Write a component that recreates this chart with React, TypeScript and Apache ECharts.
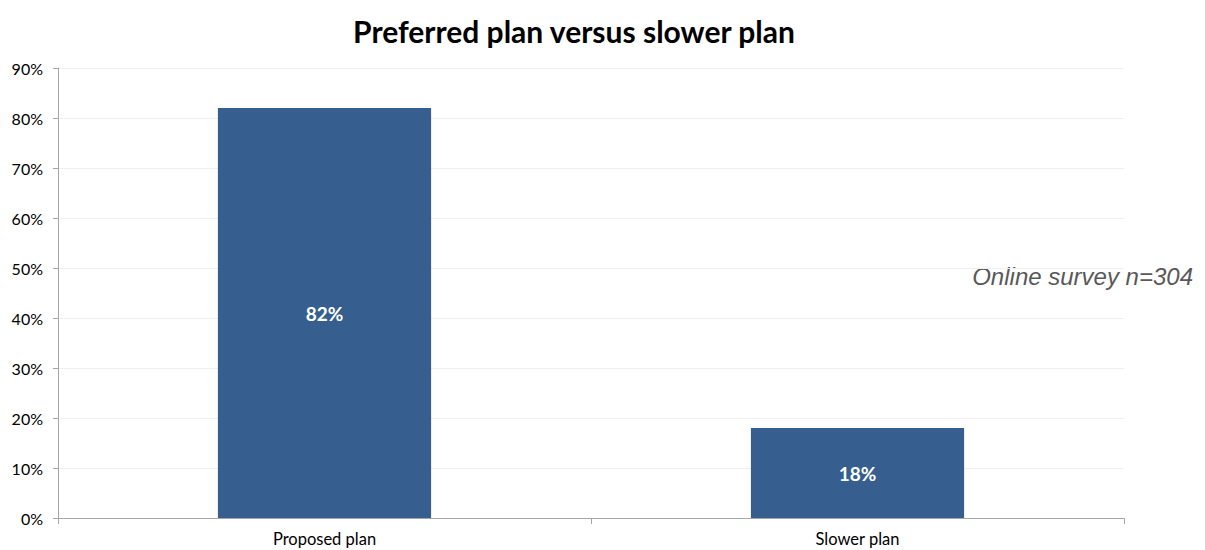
import React, { useEffect, useRef } from "react";
import * as echarts from "echarts";

const categories = ["Proposed plan", "Slower plan"];
const shares = [82, 18];
const yTicks = [0, 10, 20, 30, 40, 50, 60, 70, 80, 90];

export default function App() {
  const ref = useRef<HTMLDivElement>(null);
  useEffect(() => {
    const chart = echarts.init(ref.current!, null, { renderer: "svg" });
    chart.setOption({
      animation: false,
      backgroundColor: "#ffffff",
      title: {
        text: "Preferred plan versus slower plan",
        left: 569,
        top: 11,
        textAlign: "center",
        textStyle: { fontFamily: "Lato", fontWeight: "bold", fontSize: 30, color: "#000" },
      },
      graphic: [
        {
          type: "text",
          right: 12,
          top: 264,
          style: {
            text: "Online survey n=304",
            font: "italic 24px 'Liberation Sans', Arial, sans-serif",
            fill: "#595959",
          },
        },
      ],
      grid: { left: 58, right: 81, top: 68, bottom: 32 },
      xAxis: {
        type: "category",
        data: categories,
        axisLine: { lineStyle: { color: "#a6a6a6" } },
        axisTick: { show: true, alignWithLabel: false, length: 6, lineStyle: { color: "#a6a6a6" } },
        axisLabel: { color: "#000", fontSize: 16.5, fontFamily: "Lato", margin: 12 },
      },
      yAxis: {
        type: "value",
        min: 0,
        max: 90,
        interval: 10,
        axisLine: { show: true, lineStyle: { color: "#a6a6a6" } },
        axisTick: { show: true, length: 5, lineStyle: { color: "#a6a6a6" } },
        splitLine: { lineStyle: { color: "#efefef" } },
        axisLabel: {
          color: "#000",
          fontSize: 16,
          fontFamily: "Lato",
          margin: 15,
          formatter: (v: number) => (yTicks.includes(v) ? v + "%" : ""),
        },
      },
      series: [
        {
          type: "bar",
          data: shares,
          barWidth: "40%",
          itemStyle: { color: "#365F8F" },
          label: {
            show: true,
            position: "inside",
            formatter: (p: any) => p.value + "%",
            color: "#fff",
            fontWeight: "bold",
            fontSize: 19,
            fontFamily: "Lato",
          },
        },
      ],
    });
    return () => chart.dispose();
  }, []);
  return (
    <div
      ref={ref}
      style={{ position: "absolute", left: 0, top: 0, width: 1205, height: 550 }}
    />
  );
}
